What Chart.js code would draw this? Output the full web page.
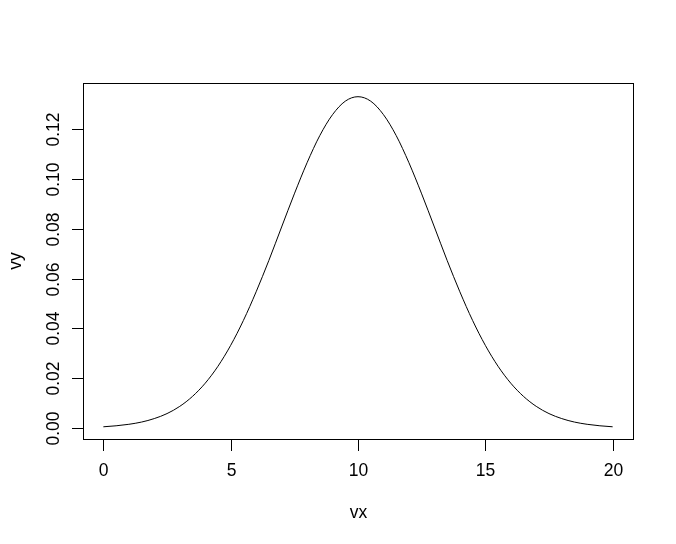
<!DOCTYPE html>
<html>
<head>
<meta charset="utf-8">
<script src="https://cdn.jsdelivr.net/npm/chart.js@4"></script>
<style>
  body { margin: 0; background: #fff; }
  canvas { display: block; }
</style>
</head>
<body>
<canvas id="grafico" width="676" height="544"></canvas>
<script>
// valores (passo de 0.5)
const vx = [0, 0.5, 1, 1.5, 2, 2.5, 3, 3.5, 4, 4.5, 5, 5.5, 6, 6.5, 7, 7.5, 8, 8.5, 9, 9.5, 10,
            10.5, 11, 11.5, 12, 12.5, 13, 13.5, 14, 14.5, 15, 15.5, 16, 16.5, 17, 17.5, 18, 18.5, 19, 19.5, 20];
const vy = [0.0005, 0.0009, 0.0015, 0.0024, 0.0038, 0.0058, 0.0087, 0.0127, 0.0180, 0.0248, 0.0332,
            0.0432, 0.0547, 0.0673, 0.0807, 0.0940, 0.1065, 0.1174, 0.1258, 0.1312, 0.1330,
            0.1312, 0.1258, 0.1174, 0.1065, 0.0940, 0.0807, 0.0673, 0.0547, 0.0432, 0.0332,
            0.0248, 0.0180, 0.0127, 0.0087, 0.0058, 0.0038, 0.0024, 0.0015, 0.0009, 0.0005];

// marcas dos eixos
const xTicks = [0, 5, 10, 15, 20];
const yTicks = [0, 0.02, 0.04, 0.06, 0.08, 0.10, 0.12];
const xTitle = "vx";
const yTitle = "vy";

const fonte = '17.5px "Liberation Sans", Arial, sans-serif';

// desenha caixa, ticks e rótulos no estilo do R
const eixosR = {
    id: "eixosR",
    afterDraw(chart) {
        const ctx = chart.ctx;
        const area = chart.chartArea;
        const sx = chart.scales.x;
        const sy = chart.scales.y;
        ctx.save();
        ctx.strokeStyle = "#000";
        ctx.lineWidth = 1;
        ctx.strokeRect(area.left + 0.5, area.top + 0.5, area.right - area.left, area.bottom - area.top);

        ctx.fillStyle = "#000";
        ctx.font = fonte;

        // eixo x
        ctx.textAlign = "center";
        ctx.textBaseline = "middle";
        xTicks.forEach((v) => {
            const px = Math.round(sx.getPixelForValue(v)) + 0.5;
            ctx.beginPath();
            ctx.moveTo(px, area.bottom);
            ctx.lineTo(px, area.bottom + 12);
            ctx.stroke();
            ctx.fillText(String(v), px, 471);
        });
        ctx.fillText(xTitle, (area.left + area.right) / 2 + 0.5, 513);

        // eixo y
        yTicks.forEach((v) => {
            const py = Math.round(sy.getPixelForValue(v)) + 0.5;
            ctx.beginPath();
            ctx.moveTo(area.left - 11, py);
            ctx.lineTo(area.left, py);
            ctx.stroke();
            ctx.save();
            ctx.translate(54, py);
            ctx.rotate(-Math.PI / 2);
            ctx.fillText(v.toFixed(2), 0, 0);
            ctx.restore();
        });
        ctx.save();
        ctx.translate(16, (area.top + area.bottom) / 2);
        ctx.rotate(-Math.PI / 2);
        ctx.fillText(yTitle, 0, 0);
        ctx.restore();

        ctx.restore();
    },
};

const grafico = new Chart(document.getElementById("grafico"), {
    type: "line",
    data: {
        datasets: [
            {
                data: vx.map((x, i) => ({ x: x, y: vy[i] })),
                borderColor: "#000",
                borderWidth: 1,
                pointRadius: 0,
                fill: false,
                cubicInterpolationMode: "monotone",
            },
        ],
    },
    options: {
        responsive: false,
        devicePixelRatio: 1,
        animation: false,
        layout: {
            padding: { left: 83, right: 43, top: 83, bottom: 105 },
        },
        plugins: {
            legend: { display: false },
            tooltip: { enabled: false },
        },
        scales: {
            x: { type: "linear", min: -0.8, max: 20.8, display: false },
            y: { type: "linear", min: -0.0044, max: 0.1385, display: false },
        },
    },
    plugins: [eixosR],
});
</script>
</body>
</html>
